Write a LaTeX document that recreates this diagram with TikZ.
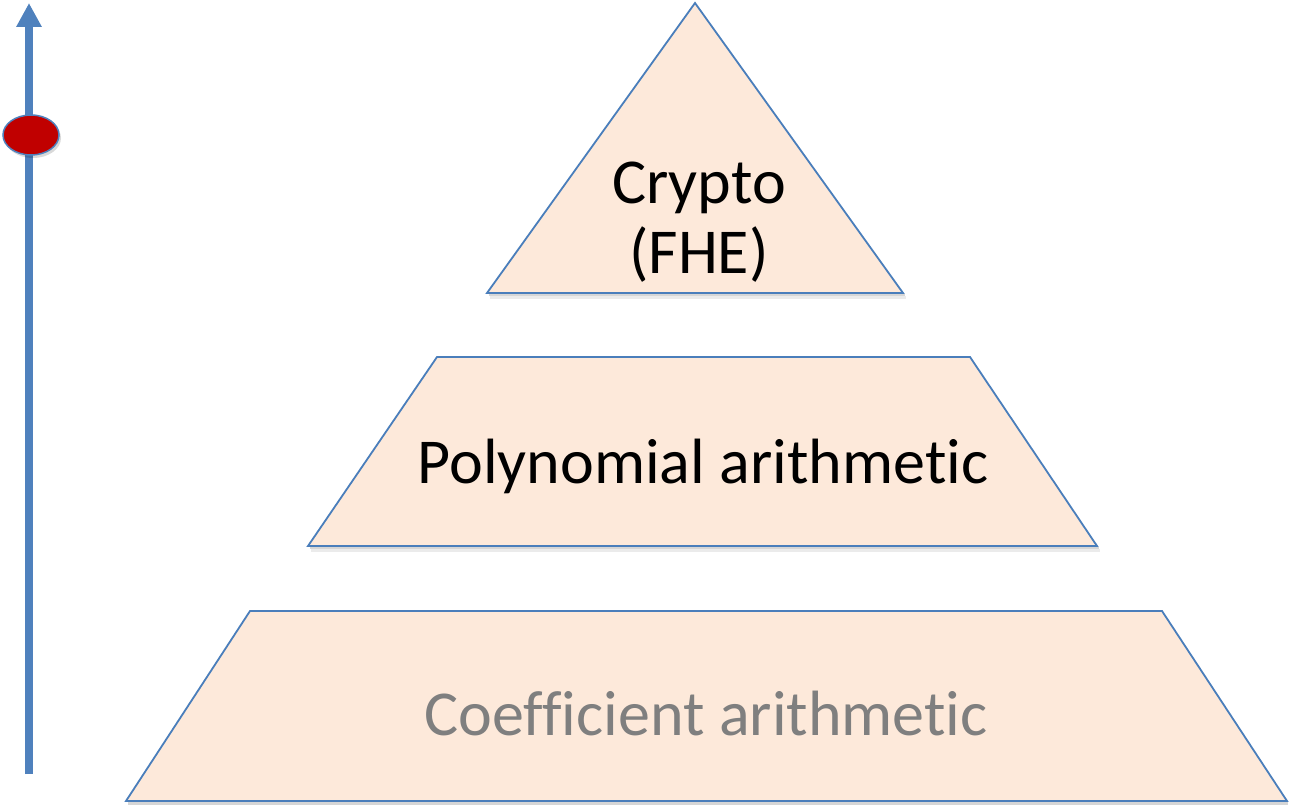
\documentclass[tikz,border=0pt]{standalone}
\usepackage{fontspec}
\setmainfont{Carlito}[RawFeature={-liga;-clig;-dlig;-rlig}]
\usetikzlibrary{arrows.meta, shapes.geometric}
\definecolor{peach}{HTML}{FDE9DA}
\definecolor{edgeblue}{HTML}{4A7EBB}
\definecolor{axisblue}{HTML}{4F81BD}
\definecolor{darkred}{HTML}{C00000}
\definecolor{softgray}{HTML}{7F7F7F}
\tikzset{
  layer/.style={fill=peach, draw=edgeblue, line width=1.8pt, line join=miter},
  lbl/.style={font=\fontsize{64}{70}\selectfont, anchor=base, inner sep=0pt},
}
% soft shadow strip below a layer edge: #1 = left x, #2 = right x, #3 = edge y
\newcommand{\edgeshadow}[3]{%
  \fill[black, opacity=0.16] (#1+2,#3+1) rectangle (#2+2,#3+3);
  \fill[black, opacity=0.08] (#1+3,#3+3) rectangle (#2+3,#3+6);
}
\begin{document}
\begin{tikzpicture}[x=1pt, y=-1pt]
\useasboundingbox (0,0) rectangle (1289,805);

% soft shadows under each layer
\edgeshadow{487}{903}{293}
\edgeshadow{308}{1097}{546}
\fill[black, opacity=0.16] (128,802) rectangle (1288,805);

% top layer: triangle
\draw[layer] (695,3) -- (903,293) -- (487,293) -- cycle;
% middle layer: trapezoid
\draw[layer] (437,357) -- (970,357) -- (1097,546) -- (308,546) -- cycle;
% bottom layer: trapezoid
\draw[layer] (250,611) -- (1162,611) -- (1287,801) -- (126,801) -- cycle;

\node[lbl] (crypto) at (699,203) {Crypto};
\node[lbl] (fhe) at (699,273) {(FHE)};
\node[lbl] (poly) at (703,483) {Polynomial arithmetic};
\node[lbl, text=softgray] (coef) at (706,735) {Coefficient arithmetic};

% vertical axis with marker
\coordinate (axisbottom) at (29,774);
\coordinate (axistop) at (29,3);
\draw[axisblue, line width=8pt, -{Triangle[length=24pt, width=24pt]}] (axisbottom) -- (axistop);
\fill[black, opacity=0.15] (33,138) ellipse [x radius=28pt, y radius=20pt];
\node[ellipse, draw=axisblue, line width=1.5pt, fill=darkred, minimum width=56pt, minimum height=40pt, inner sep=0pt] (marker) at (31,135) {};
\end{tikzpicture}
\end{document}
